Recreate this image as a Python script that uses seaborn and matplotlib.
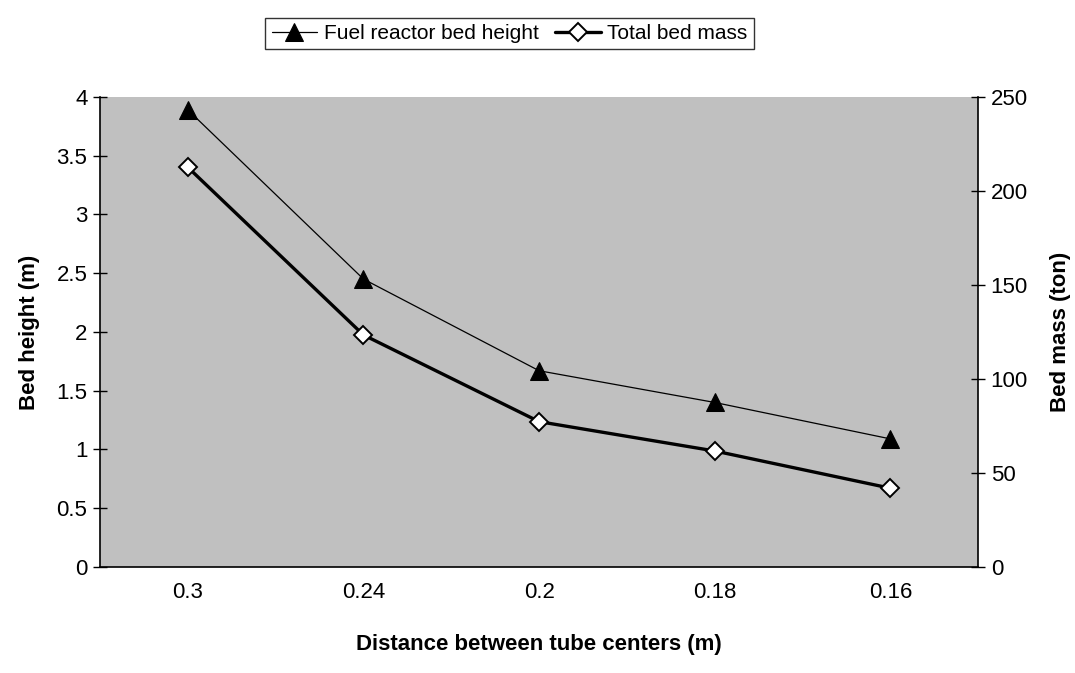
import numpy as np
import pandas as pd
import seaborn as sns
import matplotlib
matplotlib.use('Agg')
import matplotlib.pyplot as plt
from matplotlib.ticker import FixedLocator

# data
distance = ['0.3', '0.24', '0.2', '0.18', '0.16']
bed_height = [3.89, 2.45, 1.67, 1.40, 1.09]      # m, left axis
bed_mass = [212.6, 123.4, 77.3, 61.7, 41.9]      # ton, right axis

sns.set_style('white')
plt.rcParams['font.family'] = ['Liberation Sans', 'DejaVu Sans']
plt.rcParams['text.color'] = 'black'
plt.rcParams['axes.labelcolor'] = 'black'
plt.rcParams['xtick.color'] = 'black'
plt.rcParams['ytick.color'] = 'black'

df = pd.DataFrame({'pos': np.arange(len(distance)), 'dist': distance,
                   'height': bed_height, 'mass': bed_mass})

fig = plt.figure(figsize=(10.75, 6.73), dpi=100)
ax = fig.add_axes([0.093, 0.1575, 0.817, 0.6985])
ax.set_facecolor('#C0C0C0')
ax2 = ax.twinx()

sns.lineplot(data=df, x='pos', y='height', ax=ax, color='black', lw=0.9,
             marker='^', markersize=13, markerfacecolor='black',
             markeredgecolor='black', label='Fuel reactor bed height',
             legend=False)
sns.lineplot(data=df, x='pos', y='mass', ax=ax2, color='black', lw=2.4,
             marker='D', markersize=9, markerfacecolor='white',
             markeredgecolor='black', markeredgewidth=1.4,
             label='Total bed mass', legend=False)

ax.set_xlim(-0.5, len(distance) - 0.5)
ax.set_ylim(0, 4)
ax2.set_ylim(0, 250)
ax.set_yticks(np.arange(0, 4.01, 0.5))
ax.set_yticklabels(['0', '0.5', '1', '1.5', '2', '2.5', '3', '3.5', '4'])
ax2.set_yticks(np.arange(0, 251, 50))

# category labels in the middle, tick marks on the borders
ax.xaxis.set_major_locator(FixedLocator(np.arange(-0.5, len(distance), 1.0)))
ax.xaxis.set_minor_locator(FixedLocator(df['pos']))
ax.set_xticklabels([''] * (len(distance) + 1))
ax.set_xticklabels(distance, minor=True)
ax.tick_params(axis='x', which='major', direction='inout', length=10, width=1)
ax.tick_params(axis='x', which='minor', length=0, pad=11, labelsize=16)
ax.tick_params(axis='y', direction='inout', length=10, width=1, labelsize=16,
               left=True, pad=4)
ax2.tick_params(axis='y', direction='inout', length=10, width=1, labelsize=16,
                right=True, pad=4)

for a in (ax, ax2):
    a.spines['top'].set_visible(False)
    for s in ('left', 'right', 'bottom'):
        a.spines[s].set_color('black')
        a.spines[s].set_linewidth(1.2)
ax.spines['right'].set_visible(False)
ax2.spines['left'].set_visible(False)
ax2.spines['bottom'].set_visible(False)

ax.set_xlabel('Distance between tube centers (m)', fontsize=16,
              fontweight='bold', labelpad=22)
ax.set_ylabel('Bed height (m)', fontsize=16, fontweight='bold', labelpad=12)
ax2.set_ylabel('Bed mass (ton)', fontsize=16, fontweight='bold', labelpad=16)

h1, l1 = ax.get_legend_handles_labels()
h2, l2 = ax2.get_legend_handles_labels()
leg = fig.legend(h1 + h2, l1 + l2, loc='center', bbox_to_anchor=(0.474, 0.950),
                 ncol=2, frameon=True, fancybox=False, fontsize=15,
                 handlelength=2.2, handletextpad=0.3, columnspacing=0.8,
                 borderpad=0.3, edgecolor='black')
leg.get_frame().set_linewidth(1.0)

plt.savefig('out.png', dpi=100)
